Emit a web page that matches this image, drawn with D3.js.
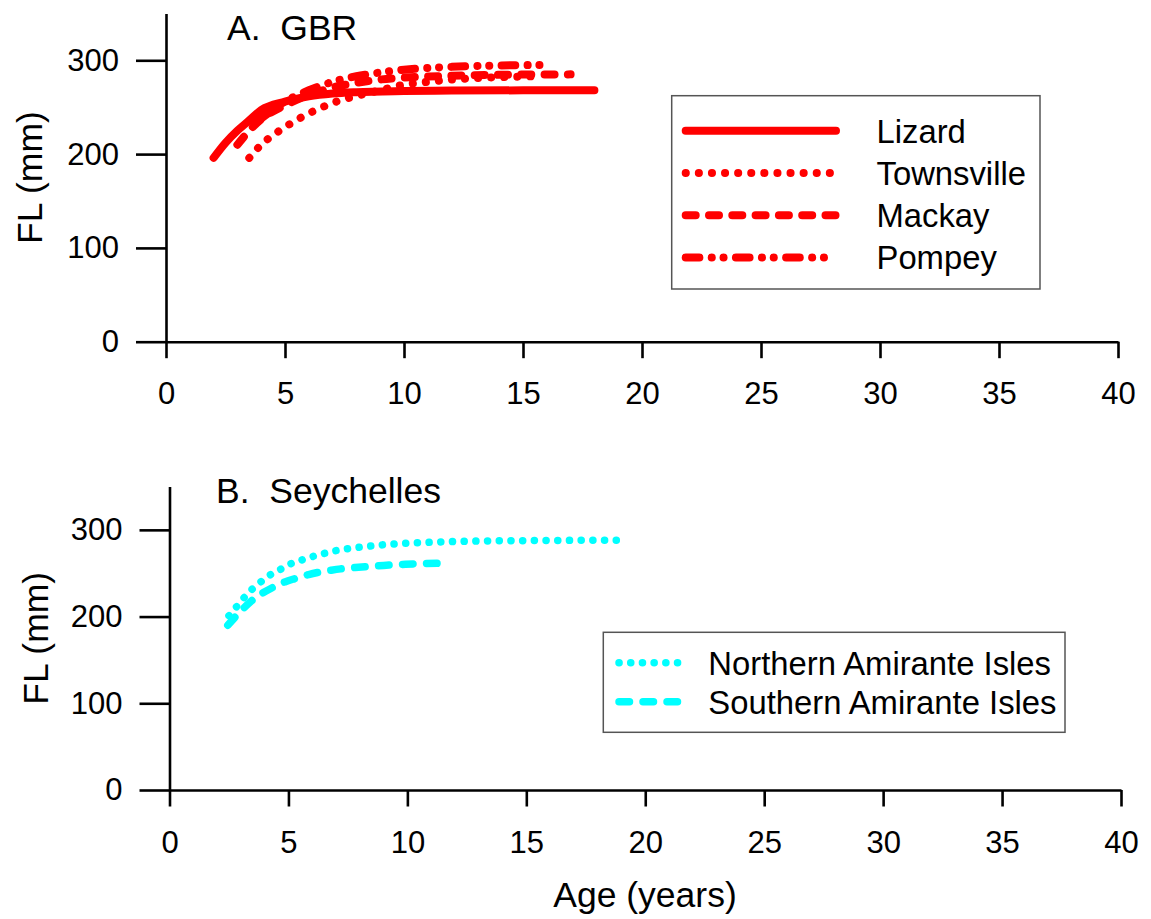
<!DOCTYPE html>
<html>
<head>
<meta charset="utf-8">
<script src="https://cdn.jsdelivr.net/npm/d3@7"></script>
<style>
  html, body { margin: 0; padding: 0; background: #fff; }
  svg { display: block; }
  text { font-family: "Liberation Sans", Arial, Helvetica, sans-serif; fill: #000; }
</style>
</head>
<body>
<svg id="chart" width="1151" height="919"></svg>
<script>
// ---------------- data ----------------
const xTickValues = [0, 5, 10, 15, 20, 25, 30, 35, 40];
const yTickValues = [0, 100, 200, 300];

const panelATitle = "A.  GBR";
const panelBTitle = "B.  Seychelles";
const yAxisTitle = "FL (mm)";
const xAxisTitle = "Age (years)";

// Panel A: GBR
const lizardAge = [2, 2.5, 3, 3.5, 4, 5, 6, 7, 8, 10, 12, 15, 18];
const lizardFL  = [196, 212, 225, 236, 247, 256, 261.5, 264.5, 266, 267.2, 267.7, 268, 268];

const townsvilleAge = [3.5, 4, 4.6, 5.2, 5.75, 6.3, 6.85, 7.4, 8, 9, 10, 11, 12, 13, 14, 15.5];
const townsvilleFL  = [196, 210, 222, 232, 240, 247, 253, 258, 262, 268, 274, 277, 279.5, 281, 282, 283];

const mackayAge = [3, 3.5, 4, 5, 6, 7, 8, 9, 10, 12, 14, 17];
const mackayFL  = [210, 225, 237, 252, 263, 271, 276, 279.5, 281.5, 283.5, 284.5, 285];

const pompeyAge = [4, 5, 6, 7, 8, 9, 10, 12, 14, 16.1];
const pompeyFL  = [238, 256, 268, 277, 283, 287, 290, 293, 294.5, 295];

// Panel B: Seychelles
const northernAge = [2.5, 2.9, 3.3, 3.75, 4.2, 4.7, 5.15, 5.65, 6.1, 6.6, 7.0, 7.5, 8.5, 9.4, 10.3, 11.3, 13.2, 15, 17, 18.9];
const northernFL  = [201, 214, 227, 238, 247.5, 255, 261.5, 266, 270, 273.5, 276, 278.3, 281.5, 283.7, 285, 286, 287.2, 287.6, 287.9, 288];

const southernAge = [2.45, 2.95, 3.4, 3.85, 4.3, 4.85, 5.3, 5.85, 6.25, 6.8, 7.2, 7.8, 8.4, 9.0, 9.7, 10.5, 11.75];
const southernFL  = [190, 205, 217, 226, 233, 240, 244, 248.5, 251, 253.5, 255, 256.5, 257.8, 259, 260, 261, 261.5];

const gbrNames = ["Lizard", "Townsville", "Mackay", "Pompey"];
const seyNames = ["Northern Amirante Isles", "Southern Amirante Isles"];

// ---------------- styles ----------------
const RED = "#ff0000", CYAN = "#00ffff";
const dashA = {
  "Lizard": null,
  "Townsville": "0.1 13",
  "Mackay": "10 13.3",
  "Pompey": "13.7 12.3 0.1 11.7 0.1 12.3"
};
const dashB = {
  "Northern Amirante Isles": "0.1 11.6",
  "Southern Amirante Isles": "10.5 13.5"
};

const svg = d3.select("#chart");
const FONT_TICK = 31, FONT_LEG = 32.8, FONT_TITLE = 35.5, FONT_AXIS = 35.5;

function zip(ages, fls) { return ages.map((a, i) => ({ age: a, fl: fls[i] })); }

function drawPanel(cfg) {
  const x = d3.scaleLinear().domain([0, 40]).range([cfg.x0, cfg.x1]);
  const y = d3.scaleLinear().domain([0, 350]).range([cfg.y0, cfg.y1]);
  const g = svg.append("g");

  const yAxis = d3.axisLeft(y).tickValues(yTickValues).tickSize(30).tickSizeOuter(0).tickPadding(17);
  const xAxis = d3.axisBottom(x).tickValues(xTickValues).tickSize(16.5).tickSizeOuter(0).tickPadding(24);

  const gy = g.append("g").attr("transform", `translate(${cfg.x0},0)`).call(yAxis);
  const gx = g.append("g").attr("transform", `translate(0,${cfg.y0})`).call(xAxis);
  [gx, gy].forEach(a => {
    a.selectAll("path.domain").attr("stroke", "#000").attr("stroke-width", 2.6);
    a.selectAll(".tick line").attr("stroke", "#000").attr("stroke-width", 2.6);
    a.selectAll(".tick text").style("font-size", FONT_TICK + "px")
      .style("font-family", '"Liberation Sans", Arial, sans-serif').attr("fill", "#000");
  });

  g.append("text")
    .attr("transform", `translate(${cfg.yTitleX},${(y(0) + y(350)) / 2}) rotate(-90)`)
    .attr("text-anchor", "middle")
    .style("font-size", FONT_AXIS + "px")
    .text(yAxisTitle);

  g.append("text")
    .attr("x", cfg.titleX).attr("y", cfg.titleY)
    .style("font-size", FONT_TITLE + "px")
    .style("white-space", "pre")
    .attr("xml:space", "preserve")
    .text(cfg.title);

  const line = d3.line().x(d => x(d.age)).y(d => y(d.fl)).curve(d3.curveMonotoneX);

  cfg.series.forEach(s => {
    g.append("path")
      .datum(s.data)
      .attr("d", line)
      .attr("fill", "none")
      .attr("stroke", s.color)
      .attr("stroke-width", s.width)
      .attr("stroke-linecap", "round")
      .attr("stroke-linejoin", "round")
      .attr("stroke-dasharray", s.dash);
  });

  const L = cfg.legend;
  g.append("rect")
    .attr("x", L.x).attr("y", L.y).attr("width", L.w).attr("height", L.h)
    .attr("fill", "#fff").attr("stroke", "#555").attr("stroke-width", 1.5);
  cfg.series.forEach((s, i) => {
    const ly = L.rowY0 + i * L.rowDy;
    g.append("line")
      .attr("x1", L.lx1).attr("x2", L.lx2).attr("y1", ly).attr("y2", ly)
      .attr("stroke", s.color).attr("stroke-width", s.width)
      .attr("stroke-linecap", "round")
      .attr("stroke-dasharray", s.dash);
    g.append("text")
      .attr("x", L.tx).attr("y", ly).attr("dy", "0.36em")
      .style("font-size", FONT_LEG + "px")
      .text(s.name);
  });
}

drawPanel({
  x0: 166, x1: 1118, y0: 341.7, y1: 13.4,
  yTitleX: 41.5, titleX: 227, titleY: 40, title: panelATitle,
  series: [
    { name: gbrNames[0], data: zip(lizardAge, lizardFL), color: RED, width: 8, dash: dashA[gbrNames[0]] },
    { name: gbrNames[1], data: zip(townsvilleAge, townsvilleFL), color: RED, width: 8, dash: dashA[gbrNames[1]] },
    { name: gbrNames[2], data: zip(mackayAge, mackayFL), color: RED, width: 8, dash: dashA[gbrNames[2]] },
    { name: gbrNames[3], data: zip(pompeyAge, pompeyFL), color: RED, width: 8, dash: dashA[gbrNames[3]] }
  ],
  legend: { x: 671.7, y: 95.7, w: 368.3, h: 193.3, rowY0: 130.7, rowDy: 42.3, lx1: 685.7, lx2: 836, tx: 876.5 }
});

drawPanel({
  x0: 169.5, x1: 1121, y0: 790, y1: 486.5,
  yTitleX: 47.5, titleX: 216, titleY: 503, title: panelBTitle,
  series: [
    { name: seyNames[0], data: zip(northernAge, northernFL), color: CYAN, width: 7.5, dash: dashB[seyNames[0]] },
    { name: seyNames[1], data: zip(southernAge, southernFL), color: CYAN, width: 7.5, dash: dashB[seyNames[1]] }
  ],
  legend: { x: 603.3, y: 632.3, w: 461.7, h: 100, rowY0: 662.7, rowDy: 39, lx1: 619, lx2: 683, tx: 708.3 }
});

svg.append("text")
  .attr("x", 645).attr("y", 907)
  .attr("text-anchor", "middle")
  .style("font-size", FONT_AXIS + "px")
  .text(xAxisTitle);
</script>
</body>
</html>
